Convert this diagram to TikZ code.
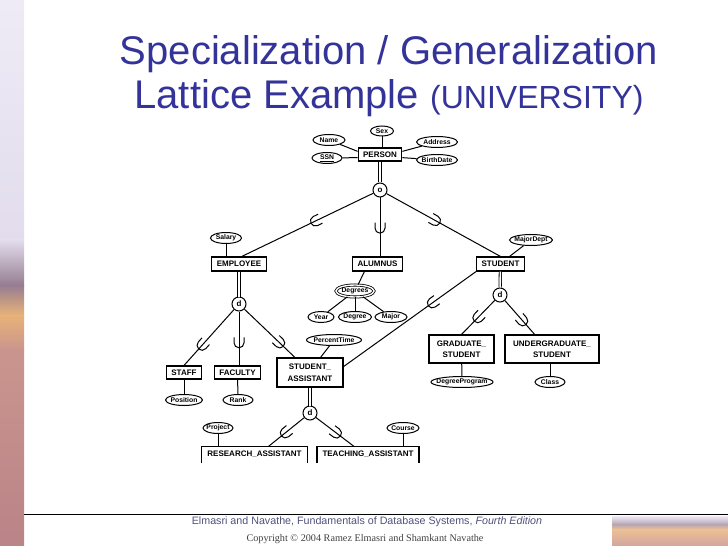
\documentclass[tikz,border=0pt]{standalone}
\usepackage{fontspec}
\setmainfont{Liberation Serif}
\setsansfont{Liberation Sans}
\usetikzlibrary{calc,shapes.geometric,decorations.markings}

\definecolor{titleblue}{RGB}{51,51,153}
\definecolor{footblue}{RGB}{80,80,125}
\definecolor{sandA}{RGB}{238,235,246}
\definecolor{sandB}{RGB}{226,220,236}
\definecolor{sandC}{RGB}{150,125,145}
\definecolor{sandD}{RGB}{232,178,120}
\definecolor{sandE}{RGB}{202,148,142}
\definecolor{sandF}{RGB}{186,132,136}

\newcommand{\zw}[1]{\makebox[0pt]{#1}}

\tikzset{
  entity/.style={draw, rectangle, line width=1.1bp, align=center, inner xsep=5bp, inner ysep=0pt,
    minimum height=14bp, font=\sffamily\bfseries\fontsize{8bp}{11.5bp}\selectfont},
  attr/.style={draw, ellipse, line width=1bp, inner sep=0pt, minimum height=11bp, minimum width=#1bp,
    font=\sffamily\bfseries\fontsize{6.8bp}{7.5bp}\selectfont},
  joint/.style={draw, circle, line width=1bp, inner sep=0pt, minimum size=14bp,
    font=\sffamily\bfseries\fontsize{8bp}{9bp}\selectfont},
  link/.style={line width=1bp},
  total/.style={double, double distance=1.6bp, line width=0.8bp},
  cupat/.style={postaction={decorate, decoration={markings, mark=at position #1 with
    {\draw[line width=1bp] (-5.5bp,5bp) -- (0,5bp) arc (90:-90:5bp) -- (-5.5bp,-5bp);}}}},
}

\begin{document}
\begin{tikzpicture}[x=1bp, y=-1bp]
  \useasboundingbox (0,0) rectangle (728,546);

  % slide background
  \shade[top color=sandA, bottom color=sandB] (0,0) rectangle (24,240.5);
  \shade[top color=sandB, bottom color=sandC] (0,240) rectangle (24,285.5);
  \shade[top color=sandC, bottom color=sandD] (0,285) rectangle (24,315.5);
  \shade[top color=sandD, bottom color=sandE] (0,315) rectangle (24,350.5);
  \shade[top color=sandE, bottom color=sandF] (0,350) rectangle (24,546);
  \shade[top color=sandA, bottom color=sandC!70!white] (612,516) rectangle (728,524.5);
  \shade[top color=sandC!70!white, bottom color=sandD!80!white] (612,524) rectangle (728,529.5);
  \shade[top color=sandD!80!white, bottom color=sandE!85!white] (612,529) rectangle (728,546);
  \draw[line width=0.8bp] (24,514) -- (728,514);

  \node[font=\sffamily\fontsize{40bp}{48bp}\selectfont, text=titleblue, anchor=base] (title1) at (389,65)
    {Specialization / Generalization};
  \node[font=\sffamily\fontsize{40bp}{48bp}\selectfont, text=titleblue, anchor=base] (title2) at (389,109)
    {Lattice Example {\fontsize{32bp}{38bp}\selectfont (UNIVERSITY)}};
  \node[font=\sffamily\fontsize{10.7bp}{12bp}\selectfont, text=footblue, anchor=base] (foot1) at (367,524)
    {Elmasri and Navathe, Fundamentals of Database Systems, \textit{Fourth Edition}};
  \node[font=\rmfamily\fontsize{10.2bp}{12bp}\selectfont, text=black!75, anchor=base] (foot2) at (365,541)
    {Copyright \textcopyright{} 2004 Ramez Elmasri and Shamkant Navathe};

  % PERSON
  \node[entity, minimum height=13bp] (person) at (380,154.5) {PERSON};
  \node[attr=23, minimum height=10bp] (sex) at (382,131) {\zw{Sex}};
  \node[attr=32] (name) at (329,140) {\zw{Name}};
  \node[attr=30] (ssn) at (327,158) {\zw{\underline{SSN}}};
  \node[attr=41] (address) at (437,142) {\zw{Address}};
  \node[attr=41] (birthdate) at (437,160) {\zw{BirthDate}};
  \node[joint] (o) at (380,190) {o};

  % first level
  \node[entity] (employee) at (239,264) {EMPLOYEE};
  \node[entity] (alumnus) at (377.5,264) {ALUMNUS};
  \node[entity] (student) at (500.5,264) {STUDENT};
  \node[attr=31] (salary) at (226,238) {\zw{Salary}};
  \node[attr=43] (majordept) at (531,240) {\zw{MajorDept}};
  \node[attr=38, minimum height=12bp, double, double distance=1.4bp, line width=0.8bp] (degrees) at (355,291) {\zw{Degrees}};
  \node[attr=26] (year) at (321,317) {\zw{Year}};
  \node[attr=33] (degree) at (355,317) {\zw{Degree}};
  \node[attr=32] (major) at (391,317) {\zw{Major}};

  % second level
  \node[joint] (d1) at (239,304) {d};
  \node[joint] (d2) at (500,295) {d};
  \node[entity, minimum height=13bp] (staff) at (184,372.5) {STAFF};
  \node[entity, minimum height=13bp] (faculty) at (237.5,372.5) {FACULTY};
  \node[entity, minimum width=66bp, minimum height=29bp] (sa) at (310,372.5) {STUDENT\_\\ASSISTANT};
  \node[attr=55] (percenttime) at (334,340) {\zw{PercentTime}};
  \node[attr=37] (position) at (184,400) {\zw{Position}};
  \node[attr=30] (rank) at (238,400) {\zw{Rank}};
  \node[entity, minimum width=65bp, minimum height=28bp] (gradstudent) at (461.5,349) {GRADUATE\_\\STUDENT};
  \node[entity, minimum width=94bp, minimum height=28bp] (ugradstudent) at (552,349) {UNDERGRADUATE\_\\STUDENT};
  \node[attr=62] (degreeprogram) at (462,382) {\zw{DegreeProgram}};
  \node[attr=30] (class) at (550,382) {\zw{Class}};

  % third level
  \node[joint] (d3) at (310,413) {d};
  \node[entity, draw=none, minimum height=15bp] (ra) at (254.5,454.5) {RESEARCH\_ASSISTANT};
  \node[entity, draw=none, minimum height=15bp] (ta) at (368,454.5) {TEACHING\_ASSISTANT};
  \node[attr=30] (project) at (218,428) {\zw{Project}};
  \node[attr=32] (course) at (403,428) {\zw{Course}};

  \draw[total] (person) -- (o);
  \draw[link] (sex) -- (sex |- person.north);
  \draw[link] (name) -- (person.172);
  \draw[link] (ssn) -- (person.188);
  \draw[link] (address) -- (person.8);
  \draw[link] (birthdate) -- (person.-8);

  \draw[link, cupat=0.44] (o) -- (employee.70);
  \draw[link, cupat=0.52] (o) -- (o |- alumnus.north);
  \draw[link, cupat=0.43] (o) -- (student.north);
  \draw[link] (salary) -- (salary |- employee.north);
  \draw[link] (majordept) -- (student.40);
  \draw[link] (alumnus.-150) -- (degrees);
  \draw[link] (degrees) -- (year);
  \draw[link] (degrees) -- (degree);
  \draw[link] (degrees) -- (major);

  \draw[total] (employee) -- (d1);
  \draw[total] (student) -- (d2);
  \draw[link, cupat=0.64] (d1) -- (staff.north);
  \draw[link, cupat=0.58] (d1) -- (d1 |- faculty.north);
  \draw[link, cupat=0.70] (d1) -- (sa.135);
  \draw[link, cupat=0.33] (student.south west) -- (sa.10);
  \draw[link] (percenttime) -- (sa.55);
  \draw[link] (staff) -- (position);
  \draw[link] (faculty) -- (rank);
  \draw[link, cupat=0.51] (d2) -- (gradstudent.north);
  \draw[link, cupat=0.60] (d2) -- (ugradstudent.140);
  \draw[link] (gradstudent) -- (degreeprogram);
  \draw[link] (class) -- (class |- ugradstudent.south);

  \draw[total] (sa) -- (d3);
  \draw[link, cupat=0.53] (d3) -- (ra.30);
  \draw[link, cupat=0.54] (d3) -- (ta.150);
  \draw[link] (project) -- (project |- ra.north);
  \draw[link] (course) -- (course |- ta.north);
  \draw[line width=1.1bp] (ra.south west) |- (ra.north east) -- (ra.south east);
  \draw[line width=1.1bp] (ta.south west) |- (ta.north east) -- (ta.south east);
\end{tikzpicture}
\end{document}
